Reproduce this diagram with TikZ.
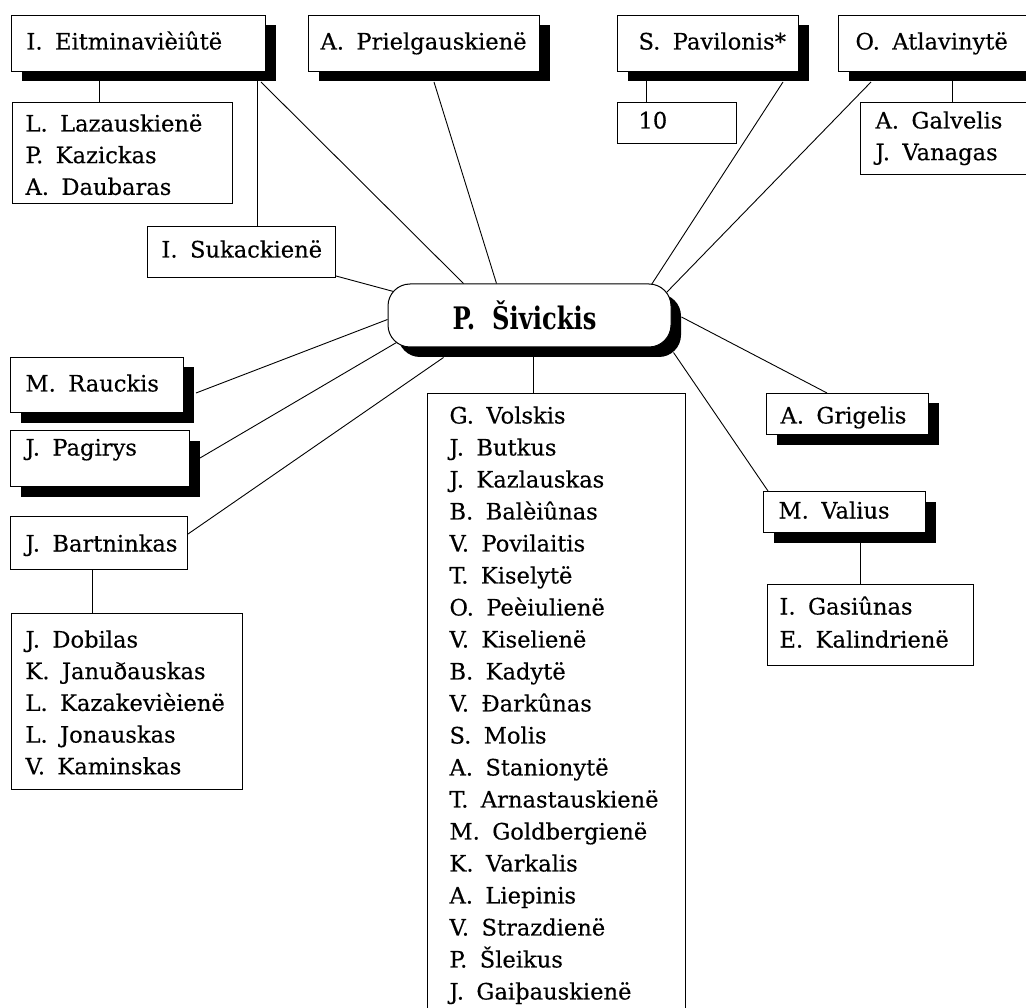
\documentclass[tikz,border=0pt]{standalone}
\usepackage{fontspec}
\setmainfont{DejaVu Serif}[FakeBold=0.35]
\newfontfamily\pivfont{DejaVu Serif}[FakeStretch=0.78]
\usetikzlibrary{calc,shadows}
\pgfdeclarelayer{bg}
\pgfsetlayers{bg,main}
\setlength\parindent{0pt}
\newcommand\gp{\hspace{0.55em}}
\newcommand\In[1]{\hspace*{#1pt}}
\tikzset{
  box/.style={draw=black, line width=1pt, fill=white, anchor=north west,
    inner sep=0pt, align=left, font=\fontsize{22.6}{31.7}\selectfont},
  shad/.style={general shadow={fill=black, shadow xshift=10pt, shadow yshift=-10pt}},
  conn/.style={line width=0.9pt},
}
\begin{document}
\begin{tikzpicture}[x=1pt,y=-1pt]
\useasboundingbox (0,0) rectangle (1026,1008);

% top row
\node[box, shad, text width=254pt, text height=34pt, text depth=22pt] (eit) at (11,15)
  {\In{15}I.\gp Eitminavièiûtë};
\node[box, text width=220pt, text height=29pt, text depth=72pt] (laz) at (12,102)
  {\In{13}L.\gp Lazauskienë\\ \In{13}P.\gp Kazickas\\ \In{13}A.\gp Daubaras};
\node[box, shad, text width=231pt, text height=34pt, text depth=22pt] (pri) at (308,15)
  {\In{12}A.\gp Prielgauskienë};
\node[box, shad, text width=181pt, text height=34pt, text depth=22pt] (pav) at (617,15)
  {\In{21}S.\gp Pavilonis*};
\node[box, text width=119pt, text height=26pt, text depth=15pt] (ten) at (617,102)
  {\In{21}10};
\node[box, shad, text width=200pt, text height=34pt, text depth=22pt] (atl) at (838,15)
  {\In{17}O.\gp Atlavinytë};
\node[box, text width=170pt, text height=26pt, text depth=46pt] (gal) at (860,102)
  {\In{15}A.\gp Galvelis\\ \In{15}J.\gp Vanagas};

% centre
\node[draw=black, line width=1pt, fill=white, rounded corners=22pt, shad,
  minimum width=283pt, minimum height=63pt, inner sep=0pt,
  font=\pivfont\bfseries\fontsize{31}{36}\selectfont] (piv) at (529.5,315.5)
  {\hspace*{-10pt}P.\gp Šivickis};

% left side
\node[box, text width=188pt, text height=31pt, text depth=20pt] (suk) at (147,226)
  {\In{14}I.\gp Sukackienë};
\node[box, shad, text width=173pt, text height=34pt, text depth=21pt] (rau) at (10,357)
  {\In{15}M.\gp Rauckis};
\node[box, shad, text width=179pt, text height=25pt, text depth=31pt] (pag) at (10,430)
  {\In{15}J.\gp Pagirys};
\node[box, text width=177pt, text height=35pt, text depth=18pt] (bar) at (10,516)
  {\In{15}J.\gp Bartninkas};
\node[box, text width=231pt, text height=34pt, text depth=142pt] (dob) at (11,613)
  {\In{14}J.\gp Dobilas\\ \In{14}K.\gp Januðauskas\\ \In{14}L.\gp Kazakevièienë\\
   \In{14}L.\gp Jonauskas\\ \In{14}V.\gp Kaminskas};

% big list
\node[box, text width=258pt, text height=30pt, text depth=590pt,
  font=\fontsize{22.6}{32}\selectfont] (big) at (427,393)
  {\In{22}G.\gp Volskis\\ \In{22}J.\gp Butkus\\ \In{22}J.\gp Kazlauskas\\
   \In{22}B.\gp Balèiûnas\\ \In{22}V.\gp Povilaitis\\ \In{22}T.\gp Kiselytë\\
   \In{22}O.\gp Peèiulienë\\ \In{22}V.\gp Kiselienë\\ \In{22}B.\gp Kadytë\\
   \In{22}V.\gp Đarkûnas\\ \In{22}S.\gp Molis\\ \In{22}A.\gp Stanionytë\\
   \In{22}T.\gp Arnastauskienë\\ \In{22}M.\gp Goldbergienë\\ \In{22}K.\gp Varkalis\\
   \In{22}A.\gp Liepinis\\ \In{22}V.\gp Strazdienë\\ \In{22}P.\gp Šleikus\\
   \In{22}J.\gp Gaiþauskienë};

% right side
\node[box, shad, text width=162pt, text height=30pt, text depth=11pt] (gri) at (766,393)
  {\In{14}A.\gp Grigelis};
\node[box, shad, text width=162pt, text height=27pt, text depth=14pt] (val) at (763,491)
  {\In{15}M.\gp Valius};
\node[box, text width=206pt, text height=30pt, text depth=51pt,
  font=\fontsize{22.6}{33}\selectfont] (gas) at (767,584)
  {\In{12}I.\gp Gasiûnas\\ \In{12}E.\gp Kalindrienë};

\begin{pgfonlayer}{bg}
\draw[conn] (laz.north west) ++(87,0) coordinate (c1) -- (c1 |- eit.south);
\draw[conn] (suk.north west) ++(110,0) coordinate (c2) -- (c2 |- eit.south);
\draw[conn] ($(eit.south east)+(-5,10)$) -- ($(piv.north west)+(76,0)$);
\draw[conn] ($(pri.south east)+(-106,10)$) -- ($(piv.north west)+(109,0)$);
\draw[conn] (ten.north west) ++(29,0) coordinate (c3) -- (c3 |- pav.south);
\draw[conn] ($(pav.south east)+(-16,10)$) -- ($(piv.north west)+(264,1)$);
\draw[conn] (gal.north west) ++(92,0) coordinate (c4) -- (c4 |- atl.south);
\draw[conn] ($(atl.south west)+(33,10)$) -- ($(piv.north east)+(-5,9)$);
\draw[conn] ($(suk.south east)+(0,-2)$) -- ($(piv.north west)+(6,8)$);
\draw[conn] ($(rau.north east)+(12,36)$) -- ($(piv.west)+(0,4)$);
\draw[conn] ($(pag.north east)+(10,28)$) -- ($(piv.south west)+(9,-5)$);
\draw[conn] ($(bar.north east)+(0,18)$) -- ($(piv.south west)+(56,10)$);
\draw[conn] (dob.north west) ++(81,0) coordinate (c5) -- (c5 |- bar.south);
\draw[conn] (big.north west) ++(106.6,0) coordinate (c6) -- (c6 |- piv.south);
\draw[conn] ($(piv.east)+(10,1.5)$) -- ($(gri.north west)+(61,0)$);
\draw[conn] ($(piv.south east)+(2,5)$) -- ($(val.north west)+(5,0)$);
\draw[conn] (gas.north west) ++(93,0) coordinate (c7) -- (c7 |- val.south);
\end{pgfonlayer}
\end{tikzpicture}
\end{document}
